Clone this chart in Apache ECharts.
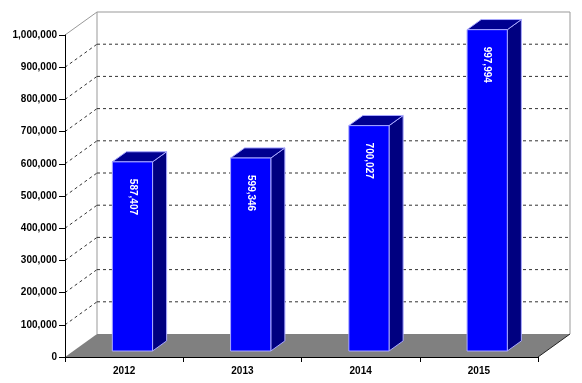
<!DOCTYPE html>
<html>
<head>
<meta charset="utf-8">
<script src="https://cdn.jsdelivr.net/npm/echarts@6/dist/echarts.min.js"></script>
<style>
html,body{margin:0;padding:0;background:#fff;}
#c{width:582px;height:383px;}
</style>
</head>
<body>
<div id="c"></div>
<script>
// ---- data ----
const categories = ['2012', '2013', '2014', '2015'];
const values = [587407, 599346, 700027, 997994];
const yTicks = [0, 100000, 200000, 300000, 400000, 500000, 600000, 700000, 800000, 900000, 1000000];

// ---- 3D look ----
const DX = 32, DY = -23;       // depth of the chart box
const F1 = 0.26, F2 = 0.70;    // bar depth position (fraction of box depth)
const Y_MAX = yTicks[yTicks.length - 1];

function fmt(v) {
  return String(Math.round(v)).replace(/\B(?=(\d{3})+(?!\d))/g, ',');
}

const chart = echarts.init(document.getElementById('c'), null, { renderer: 'canvas' });

function frameItem(params, api) {
  const cs = params.coordSys;
  const x0 = cs.x, x1 = cs.x + cs.width;
  const v = api.value(1);
  const y = api.coord([0, v])[1];
  const ch = [];
  if (v === 0) {
    const yTop = api.coord([0, Y_MAX])[1];
    ch.push({ type: 'line', shape: { x1: x0 + DX, y1: yTop + DY, x2: x0 + DX, y2: y + DY }, style: { stroke: '#999', lineWidth: 1 } });
    ch.push({ type: 'line', shape: { x1: x1 + DX, y1: yTop + DY, x2: x1 + DX, y2: y + DY }, style: { stroke: '#999', lineWidth: 1 } });
    ch.push({ type: 'polygon', shape: { points: [[x0, y], [x1, y], [x1 + DX, y + DY], [x0 + DX, y + DY]] }, style: { fill: '#808080' } });
    ch.push({ type: 'line', shape: { x1: x1, y1: y, x2: x1 + DX, y2: y + DY }, style: { stroke: '#222', lineWidth: 1 } });
  } else if (v === Y_MAX) {
    ch.push({ type: 'line', shape: { x1: x0, y1: y, x2: x0 + DX, y2: y + DY }, style: { stroke: '#999', lineWidth: 1 } });
    ch.push({ type: 'line', shape: { x1: x0 + DX, y1: y + DY, x2: x1 + DX, y2: y + DY }, style: { stroke: '#999', lineWidth: 1 } });
  } else {
    ch.push({ type: 'line', shape: { x1: x0, y1: y, x2: x0 + DX, y2: y + DY }, style: { stroke: '#333', lineWidth: 1, lineDash: [3, 3] } });
    ch.push({ type: 'line', shape: { x1: x0 + DX, y1: y + DY, x2: x1 + DX, y2: y + DY }, style: { stroke: '#333', lineWidth: 1, lineDash: [3, 3] } });
  }
  return { type: 'group', children: ch, silent: true };
}

function barItem(params, api) {
  const idx = api.value(0), v = api.value(1);
  const c = api.coord([idx, v]);
  const b = api.coord([idx, 0]);
  const w = api.size([1, 0])[0] * 0.34;
  const ox1 = DX * F1, oy1 = DY * F1;
  const dx = DX * (F2 - F1), dy = DY * (F2 - F1);
  const l = c[0] - w / 2 + ox1, r = c[0] + w / 2 + ox1;
  const t = c[1] + oy1, bt = b[1] + oy1;
  const edge = '#a8a8ff';
  return {
    type: 'group',
    children: [
      { type: 'polygon', shape: { points: [[r, t], [r + dx, t + dy], [r + dx, bt + dy], [r, bt]] }, style: { fill: '#000080', stroke: edge, lineWidth: 1 } },
      { type: 'polygon', shape: { points: [[l, t], [r, t], [r + dx, t + dy], [l + dx, t + dy]] }, style: { fill: '#000090', stroke: edge, lineWidth: 1 } },
      { type: 'rect', shape: { x: l, y: t, width: w, height: bt - t }, style: { fill: '#0000ff', stroke: edge, lineWidth: 1 } },
      { type: 'text', x: (l + r) / 2, y: t + 17, rotation: -Math.PI / 2,
        style: { text: fmt(v), fill: '#fff', font: 'bold 10px "Liberation Sans", Arial, sans-serif', align: 'left', verticalAlign: 'middle' } }
    ]
  };
}

chart.setOption({
  animation: false,
  backgroundColor: '#fff',
  grid: { left: 65, right: 44, top: 35, bottom: 26, containLabel: false },
  xAxis: {
    type: 'category',
    data: categories,
    z: 10,
    axisLine: { lineStyle: { color: '#000', width: 1 } },
    axisTick: { show: true, length: 5, lineStyle: { color: '#000' } },
    axisLabel: { color: '#000', fontWeight: 'bold', fontSize: 10, fontFamily: '"Liberation Sans", Arial, sans-serif', margin: 9 },
    splitLine: { show: false }
  },
  yAxis: {
    type: 'value',
    min: 0,
    max: Y_MAX,
    interval: 100000,
    z: 10,
    axisLine: { show: true, lineStyle: { color: '#000', width: 1 } },
    axisTick: { show: true, length: 6, lineStyle: { color: '#000' } },
    axisLabel: { color: '#000', fontWeight: 'bold', fontSize: 10, fontFamily: '"Liberation Sans", Arial, sans-serif', margin: 8, formatter: fmt },
    splitLine: { show: false }
  },
  series: [
    {
      type: 'custom',
      coordinateSystem: 'cartesian2d',
      z: 1,
      silent: true,
      renderItem: frameItem,
      data: yTicks.map(v => [0, v]),
      clip: false
    },
    {
      type: 'custom',
      coordinateSystem: 'cartesian2d',
      z: 3,
      renderItem: barItem,
      data: values.map((v, i) => [i, v]),
      clip: false
    }
  ]
});
</script>
</body>
</html>
